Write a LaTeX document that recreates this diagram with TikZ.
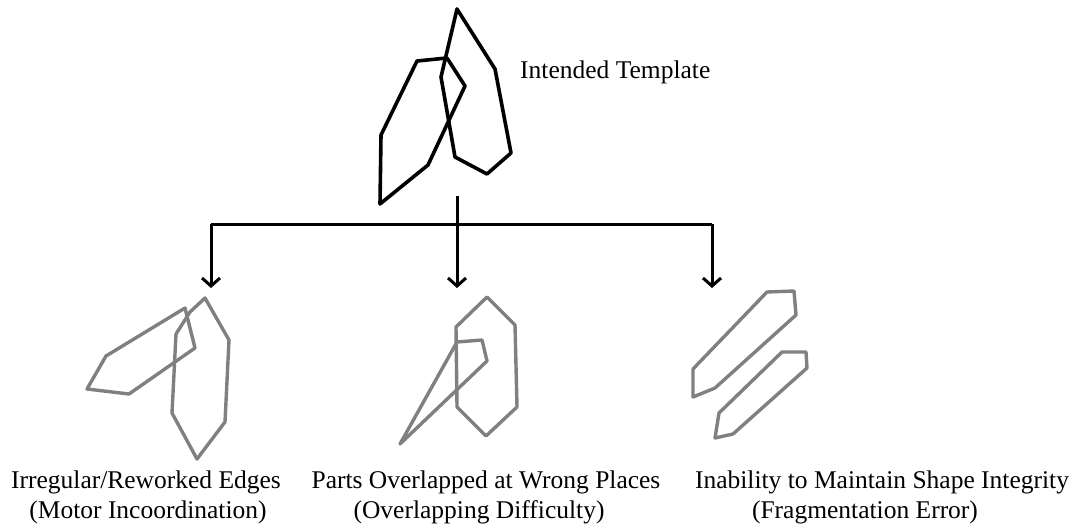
\documentclass[tikz,border=0pt]{standalone}
\usepackage{fontspec}
\setmainfont{Liberation Serif}
\usetikzlibrary{arrows.meta}
\tikzset{
  blackshape/.style={draw=black, line width=3.6pt, line join=round, line cap=round},
  grayshape/.style={draw=black!50, line width=3.4pt, line join=round, line cap=round},
  connector/.style={draw=black, line width=3pt},
  arrowline/.style={connector, -{Straight Barb[length=8pt,width=18pt,line width=3pt]}},
  lbl/.style={inner sep=0pt, anchor=base, font=\fontsize{25.5}{30}\selectfont}
}
\begin{document}
\begin{tikzpicture}[x=1pt,y=-1pt]
\useasboundingbox (0,0) rectangle (1078,527);
% intended template
\draw[blackshape] (417,61) -- (447,58) -- (465,86) -- (428,165) -- (380,204) -- (381,135) -- cycle;
\draw[blackshape] (457,9) -- (495,69) -- (511,153) -- (487,174) -- (455,157) -- (441,77) -- cycle;
\node[lbl, anchor=base west] (title) at (520,78) {Intended Template};
% connectors
\coordinate (top) at (457,196);
\coordinate (mid) at (457,224);
\coordinate (lc) at (211,224);
\coordinate (rc) at (712,224);
\coordinate (lt) at (211,288);
\coordinate (mt) at (457,288);
\coordinate (rt) at (712,288);
\draw[connector] (lc) -- (rc);
\draw[arrowline] (top) -- (mt);
\draw[arrowline] (lc) -- (lt);
\draw[arrowline] (rc) -- (rt);
% left result
\draw[grayshape] (185,308) -- (195,348) -- (129,394) -- (87,389) -- (106,356) -- cycle;
\draw[grayshape] (205,298) -- (229,340) -- (225,422) -- (197,459) -- (172,413) -- (176,334) -- (190,312) -- cycle;
% middle result
\draw[grayshape] (487,297) -- (515,325) -- (517,407) -- (486,436) -- (457,407) -- (456,327) -- cycle;
\draw[grayshape] (457,342) -- (482,340) -- (487,361) -- (400,444) -- cycle;
% right result
\draw[grayshape] (767,292) -- (794,291) -- (796,315) -- (715,388) -- (693,397) -- (693,369) -- cycle;
\draw[grayshape] (782,352) -- (806,352) -- (807,368) -- (733,434) -- (715,438) -- (719,413) -- cycle;
% labels
\node[lbl] (l1a) at (146,488) {Irregular/Reworked Edges};
\node[lbl] (l1b) at (148,518) {(Motor Incoordination)};
\node[lbl] (l2a) at (486,488) {Parts Overlapped at Wrong Places};
\node[lbl] (l2b) at (479,518) {(Overlapping Difficulty)};
\node[lbl] (l3a) at (882,488) {Inability to Maintain Shape Integrity};
\node[lbl] (l3b) at (865,518) {(Fragmentation Error)};
\end{tikzpicture}
\end{document}
